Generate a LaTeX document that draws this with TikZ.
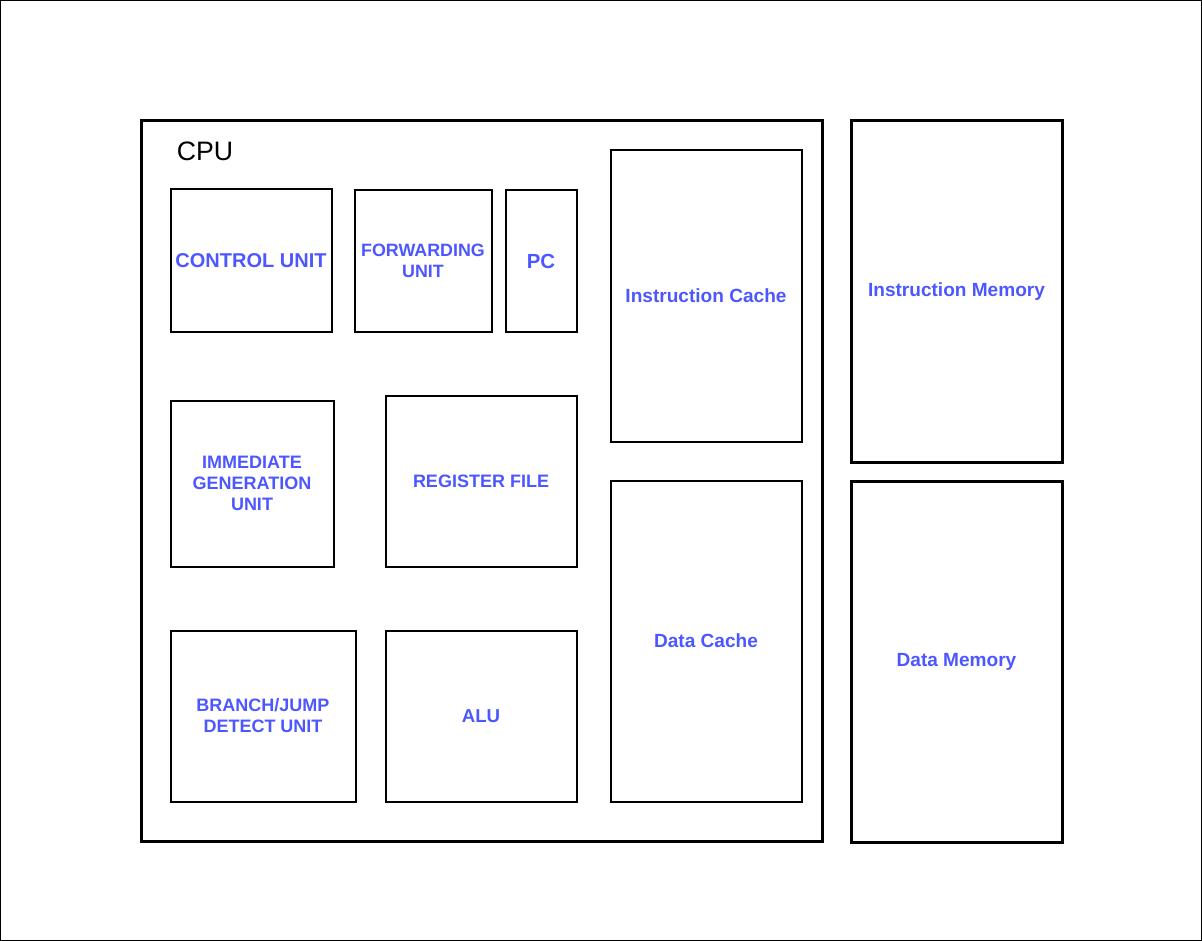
\documentclass[tikz,border=0pt]{standalone}
\usepackage{fontspec}
\setmainfont{Liberation Sans}
\definecolor{UnitBlue}{RGB}{77, 87, 255}

\tikzset{
  unit/.style 2 args={draw, line width=1.5pt, anchor=north west, inner sep=0pt,
    minimum width=#1*0.75pt, minimum height=#2*0.75pt, align=center,
    text=UnitBlue, font=\bfseries\fontsize{13.5}{15.75}\selectfont},
  chip/.style 2 args={unit={#1}{#2}, line width=2.25pt},
  mem/.style={font=\bfseries\fontsize{14.3}{16.5}\selectfont},
}

\begin{document}
\begin{tikzpicture}[x=0.75pt, y=-0.75pt]
    \useasboundingbox (0,0) rectangle (1202,941);
    \draw[line width=0.75pt] (0.5,0.5) rectangle (1201.5,940.5);

    % CPU
    \node[chip={681}{720}] (cpu) at (139.5,119.5) {};
    \node[font=\fontsize{20}{24}\selectfont] (cpulabel) at (205,151) {CPU};

    % top row
    \node[unit={161}{142}, font=\bfseries\fontsize{15}{17}\selectfont] (ctrl) at (169.5,188.5) {CONTROL UNIT};
    \node[unit={137}{141}, font=\bfseries\fontsize{13.4}{15.75}\selectfont] (fwd) at (353.5,189.5) {FORWARDING\\UNIT};
    \node[unit={71}{141}, font=\bfseries\fontsize{15.3}{17}\selectfont] (pc) at (504.5,189.5) {PC};

    % middle row
    \node[unit={163}{166}] (immgen) at (169.5,399.5) {IMMEDIATE\\GENERATION\\UNIT};
    \node[unit={191}{171}] (regfile) at (384.5,394.5) {REGISTER FILE};

    % bottom row
    \node[unit={185}{171}] (branch) at (169.5,629.5) {BRANCH/JUMP\\DETECT UNIT};
    \node[unit={191}{171}, font=\bfseries\fontsize{14}{16}\selectfont] (alu) at (384.5,629.5) {ALU};

    % caches
    \node[unit={191}{291}, mem] (icache) at (609.5,149.5) {Instruction Cache};
    \node[unit={191}{321}, mem] (dcache) at (609.5,479.5) {Data Cache};

    % memories
    \node[chip={211}{341}, mem] (imem) at (849.5,119.5) {Instruction Memory};
    \node[chip={211}{361}, mem] (dmem) at (849.5,479.5) {Data Memory};
\end{tikzpicture}
\end{document}
